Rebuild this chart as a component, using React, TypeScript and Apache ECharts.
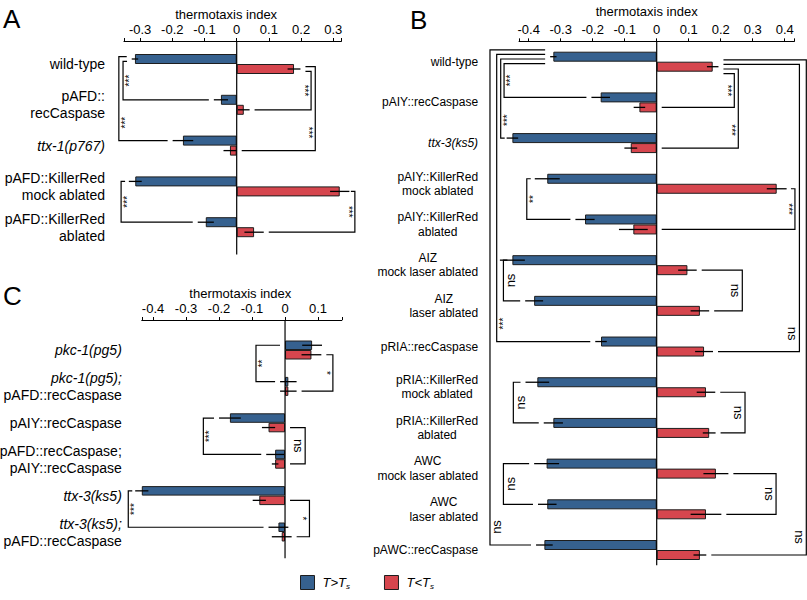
import React, { useEffect, useRef } from 'react';
import * as echarts from 'echarts';

const FONT = "'Liberation Sans', Arial, Helvetica, sans-serif";
const BLUE = '#36618f';
const RED = '#d6464e';
const EDGE = '#1e1e1e';

const AXIS_TITLE = 'thermotaxis index';
const SERIES_HOT = 'T>Ts';
const SERIES_COLD = 'T<Ts';

// ---------- Panel A ----------
const catsA = ['wild-type', 'pAFD::\nrecCaspase', 'ttx-1(p767)', 'pAFD::KillerRed\nmock ablated', 'pAFD::KillerRed\nablated'];
const hotA = [-0.316, -0.049, -0.167, -0.315, -0.096];
const hotErrA = [0.01, 0.022, 0.032, 0.02, 0.025];
const coldA = [0.178, 0.022, -0.021, 0.32, 0.054];
const coldErrA = [0.02, 0.018, 0.02, 0.03, 0.03];
const sigA = [
  { side: 'L', from: 0, to: 1, at: -0.353, label: '***' },
  { side: 'L', from: 0, to: 2, at: -0.366, label: '***' },
  { side: 'R', from: 0, to: 1, at: 0.231, label: '***' },
  { side: 'R', from: 0, to: 2, at: 0.244, label: '***' },
  { side: 'L', from: 3, to: 4, at: -0.359, label: '***' },
  { side: 'R', from: 3, to: 4, at: 0.367, label: '***' },
];

// ---------- Panel B ----------
const catsB = [
  'wild-type', 'pAIY::recCaspase', 'ttx-3(ks5)', 'pAIY::KillerRed\nmock ablated', 'pAIY::KillerRed\nablated',
  'AIZ\nmock laser ablated', 'AIZ\nlaser ablated', 'pRIA::recCaspase', 'pRIA::KillerRed\nmock ablated',
  'pRIA::KillerRed\nablated', 'AWC\nmock laser ablated', 'AWC\nlaser ablated', 'pAWC::recCaspase',
];
const hotB = [-0.323, -0.175, -0.451, -0.342, -0.224, -0.451, -0.383, -0.174, -0.373, -0.323, -0.344, -0.342, -0.351];
const hotErrB = [0.01, 0.029, 0.018, 0.039, 0.03, 0.039, 0.028, 0.018, 0.037, 0.03, 0.039, 0.029, 0.026];
const coldB = [0.175, -0.054, -0.081, 0.375, -0.073, 0.096, 0.135, 0.148, 0.154, 0.164, 0.185, 0.154, 0.135];
const coldErrB = [0.018, 0.018, 0.02, 0.031, 0.045, 0.029, 0.029, 0.028, 0.029, 0.02, 0.039, 0.048, 0.02];
const sigB = [
  { side: 'L', from: 0, to: 1, at: -0.477, label: '***' },
  { side: 'L', from: 0, to: 2, at: -0.4875, label: '***' },
  { side: 'L', from: 0, to: 7, at: -0.5, label: '***' },
  { side: 'L', from: 0, to: 12, at: -0.521, label: 'ns' },
  { side: 'L', from: 3, to: 4, at: -0.406, label: '**' },
  { side: 'L', from: 5, to: 6, at: -0.479, label: 'ns' },
  { side: 'L', from: 8, to: 9, at: -0.448, label: 'ns' },
  { side: 'L', from: 10, to: 11, at: -0.479, label: 'ns' },
  { side: 'R', from: 0, to: 1, at: 0.2425, label: '***' },
  { side: 'R', from: 0, to: 2, at: 0.255, label: '***' },
  { side: 'R', from: 0, to: 7, at: 0.446, label: 'ns' },
  { side: 'R', from: 0, to: 12, at: 0.4675, label: 'ns' },
  { side: 'R', from: 3, to: 4, at: 0.432, label: '***' },
  { side: 'R', from: 5, to: 6, at: 0.2675, label: 'ns' },
  { side: 'R', from: 8, to: 9, at: 0.276, label: 'ns' },
  { side: 'R', from: 10, to: 11, at: 0.373, label: 'ns' },
];

// ---------- Panel C ----------
const catsC = ['pkc-1(pg5)', 'pkc-1(pg5);\npAFD::recCaspase', 'pAIY::recCaspase', 'pAFD::recCaspase;\npAIY::recCaspase', 'ttx-3(ks5)', 'ttx-3(ks5);\npAFD::recCaspase'];
const hotC = [0.082, 0.01, -0.167, -0.03, -0.434, -0.02];
const hotErrC = [0.03, 0.025, 0.033, 0.027, 0.02, 0.03];
const coldC = [0.08, 0.01, -0.05, -0.03, -0.078, -0.01];
const coldErrC = [0.03, 0.025, 0.02, 0.01, 0.02, 0.03];
const sigC = [
  { side: 'L', from: 0, to: 1, at: -0.088, label: '**' },
  { side: 'R', from: 0, to: 1, at: 0.145, label: '*' },
  { side: 'L', from: 2, to: 3, at: -0.2475, label: '***' },
  { side: 'R', from: 2, to: 3, at: 0.061, label: 'ns' },
  { side: 'L', from: 4, to: 5, at: -0.475, label: '***' },
  { side: 'R', from: 4, to: 5, at: 0.074, label: '*' },
];

// ---------- layout (kept apart from data) ----------
const panels = [
  {
    key: 'A', cats: catsA, hot: hotA, hotErr: hotErrA, cold: coldA, coldErr: coldErrA, sig: sigA,
    grid: { left: 124, top: 43.6, width: 217.35, height: 204 }, min: -0.35, max: 0.325, axisOffset: 2.6, zeroExt: 7,
    labelSize: 14, lineHeight: 17, lineAlign: 'right', labelMargin: 19, barW: 10, nameGap: 20, namePad: [0, 13, 0, 0],
  },
  {
    key: 'B', cats: catsB, hot: hotB, hotErr: hotErrB, cold: coldB, coldErr: coldErrB, sig: sigB,
    grid: { left: 519.1, top: 41.35, width: 275.2, height: 529 }, min: -0.43, max: 0.43, axisOffset: 0, zeroExt: -5,
    labelSize: 12, lineHeight: 14.5, lineAlign: 'center', labelMargin: 41, barW: 10, nameGap: 20, namePad: [0, 20, 0, 0],
  },
  {
    key: 'C', cats: catsC, hot: hotC, hotErr: hotErrC, cold: coldC, coldErr: coldErrC, sig: sigC,
    grid: { left: 141.8, top: 331.8, width: 200, height: 218.4 }, min: -0.434, max: 0.172, axisOffset: 11.8, zeroExt: 8,
    labelSize: 14, lineHeight: 17, lineAlign: 'right', labelMargin: 20, barW: 9.5, nameGap: 20, namePad: [0, 3, 0, 0],
  },
];

const labelFormatter = (v: string) =>
  v.split('\n').map((line) => (/^(ttx|pkc)-/.test(line) ? `{it|${line}}` : `{n|${line}}`)).join('\n');

function staggerFor(sig: any[]) {
  const res: number[] = sig.map(() => 0);
  const groups: Record<string, number[]> = {};
  sig.forEach((b, i) => {
    const k = `${b.side}-${b.from}`;
    (groups[k] = groups[k] || []).push(i);
  });
  Object.values(groups).forEach((idxs) => {
    const sorted = idxs.slice().sort((a, b) => (sig[a].side === 'L' ? sig[a].at - sig[b].at : sig[b].at - sig[a].at));
    const n = sorted.length;
    sorted.forEach((idx, k) => { res[idx] = (k - (n - 1) / 2) * 4.6; });
  });
  return res;
}

function buildOption() {
  const grid: any[] = [];
  const xAxis: any[] = [];
  const yAxis: any[] = [];
  const series: any[] = [];

  panels.forEach((p, i) => {
    grid.push({ ...p.grid, containLabel: false, outerBoundsMode: 'none' });
    xAxis.push({
      type: 'value', gridIndex: i, position: 'top', min: p.min, max: p.max, offset: p.axisOffset,
      splitNumber: 8, minInterval: 0.1, maxInterval: 0.1,
      name: AXIS_TITLE, nameLocation: 'middle', nameGap: p.nameGap,
      nameTextStyle: { fontSize: 13, fontFamily: FONT, color: '#000', padding: p.namePad },
      axisLine: { show: true, onZero: false, lineStyle: { color: '#000', width: 1.2 } },
      axisTick: { show: true, inside: false, length: 3, lineStyle: { color: '#000', width: 1 } },
      axisLabel: {
        fontSize: 13, fontFamily: FONT, color: '#000', margin: 5,
        formatter: (v: number) => (Math.abs(v * 10 - Math.round(v * 10)) < 1e-6 ? String(Math.round(v * 10) / 10) : ''),
      },
      splitLine: { show: false },
    });
    const richBase = { fontSize: p.labelSize, fontFamily: FONT, color: '#000', lineHeight: p.lineHeight, align: p.lineAlign };
    yAxis.push({
      type: 'category', gridIndex: i, inverse: true, data: p.cats,
      axisLine: { show: false }, axisTick: { show: false }, splitLine: { show: false },
      axisLabel: {
        interval: 0, margin: p.labelMargin, fontSize: p.labelSize, fontFamily: FONT, color: '#000', lineHeight: p.lineHeight,
        formatter: labelFormatter,
        rich: { n: { ...richBase }, it: { ...richBase, fontStyle: 'italic' } },
      },
    });

    series.push({
      type: 'bar', name: SERIES_HOT, xAxisIndex: i, yAxisIndex: i, data: p.hot, barWidth: p.barW, barGap: '0%',
      clip: false, silent: true, itemStyle: { color: BLUE, borderColor: EDGE, borderWidth: 1 }, z: 2,
    });
    series.push({
      type: 'bar', name: SERIES_COLD, xAxisIndex: i, yAxisIndex: i, data: p.cold, barWidth: p.barW, barGap: '0%',
      clip: false, silent: true, itemStyle: { color: RED, borderColor: EDGE, borderWidth: 1 }, z: 2,
    });

    // zero line
    series.push({
      type: 'custom', name: 'zero' + p.key, xAxisIndex: i, yAxisIndex: i, clip: false, silent: true, z: 4,
      data: [[0, 0]], encode: { x: 0, y: 1 },
      renderItem: (params: any, api: any) => {
        const cs = params.coordSys;
        const x = api.coord([0, 0])[0];
        return {
          type: 'line',
          shape: { x1: x, y1: cs.y - p.axisOffset, x2: x, y2: cs.y + cs.height + p.zeroExt },
          style: { stroke: '#000', lineWidth: 1.2 },
        };
      },
    });

    // error bars
    const errData = [
      ...p.hot.map((v, j) => [v, j, p.hotErr[j], 0]),
      ...p.cold.map((v, j) => [v, j, p.coldErr[j], 1]),
    ];
    series.push({
      type: 'custom', name: 'err' + p.key, xAxisIndex: i, yAxisIndex: i, clip: false, silent: true, z: 5,
      data: errData, encode: { x: 0, y: 1 },
      renderItem: (params: any, api: any) => {
        const v = api.value(0), c = api.value(1), e = api.value(2), s = api.value(3);
        const a = api.coord([v - e, c]);
        const b = api.coord([v + e, c]);
        const dy = (s === 0 ? -1 : 1) * p.barW / 2;
        return {
          type: 'line',
          shape: { x1: a[0], y1: a[1] + dy, x2: b[0], y2: b[1] + dy },
          style: { stroke: '#000', lineWidth: 1.3 },
        };
      },
    });

    // significance brackets
    const stagger = staggerFor(p.sig);
    series.push({
      type: 'custom', name: 'sig' + p.key, xAxisIndex: i, yAxisIndex: i, clip: false, silent: true, z: 6,
      data: p.sig.map((b) => [b.at, b.from]), encode: { x: 0, y: 1 },
      renderItem: (params: any, api: any) => {
        const b = p.sig[params.dataIndex];
        const left = b.side === 'L';
        const vals = left ? p.hot : p.cold;
        const errs = left ? p.hotErr : p.coldErr;
        const off = (left ? -1 : 1) * p.barW / 2;
        const bx = api.coord([b.at, b.from])[0];
        const yTop = api.coord([0, b.from])[1] + off + stagger[params.dataIndex];
        const yBot = api.coord([0, b.to])[1] + off;
        const GAP = 5;
        const armEnd = (row: number) => {
          if (left) {
            const ext = Math.min(vals[row] - errs[row], 0);
            return Math.max(api.coord([ext, row])[0] - GAP, bx + 4);
          }
          const ext = Math.max(vals[row] + errs[row], 0);
          return Math.min(api.coord([ext, row])[0] + GAP, bx - 4);
        };
        const isNs = b.label === 'ns';
        const toff = isNs ? 7 : 6.5;
        const tx = bx + (left ? toff : -toff);
        const ty = b.to - b.from === 1 ? (yTop + yBot) / 2 : yBot - 18;
        return {
          type: 'group',
          children: [
            {
              type: 'polyline',
              shape: { points: [[armEnd(b.from), yTop], [bx, yTop], [bx, yBot], [armEnd(b.to), yBot]] },
              style: { stroke: '#000', lineWidth: 1.2, fill: 'none' },
            },
            {
              type: 'text', x: tx, y: ty, rotation: left ? Math.PI / 2 : -Math.PI / 2,
              style: {
                text: b.label, fontSize: isNs ? 13 : 10, fontFamily: FONT, fill: '#000',
                align: 'center', verticalAlign: 'middle',
              },
            },
          ],
        };
      },
    });
  });

  const legendRich = {
    t: { fontSize: 13, fontFamily: FONT, fontStyle: 'italic', color: '#000', lineHeight: 16, padding: [0, 0, 0, 3] },
    s: { fontSize: 8, fontFamily: FONT, fontStyle: 'italic', color: '#000', lineHeight: 8, verticalAlign: 'bottom' },
  };

  return {
    animation: false,
    backgroundColor: '#fff',
    grid, xAxis, yAxis, series,
    legend: {
      left: 300, top: 575, padding: 0, itemWidth: 14, itemHeight: 14, itemGap: 34, icon: 'rect',
      data: [SERIES_HOT, SERIES_COLD],
      selectedMode: false,
      itemStyle: { borderColor: EDGE, borderWidth: 1 },
      formatter: (name: string) => (name === SERIES_HOT ? '{t|T>T}{s|s}' : '{t|T<T}{s|s}'),
      textStyle: { rich: legendRich },
    },
    graphic: [
      { type: 'text', left: 3, top: 6, style: { text: 'A', fontSize: 26, fontFamily: FONT, fill: '#000' } },
      { type: 'text', left: 410, top: 7, style: { text: 'B', fontSize: 26, fontFamily: FONT, fill: '#000' } },
      { type: 'text', left: 3, top: 283, style: { text: 'C', fontSize: 26, fontFamily: FONT, fill: '#000' } },
    ],
  };
}

export default function App() {
  const ref = useRef<HTMLDivElement>(null);
  useEffect(() => {
    document.body.style.margin = '0';
    if (!ref.current) return;
    const chart = echarts.init(ref.current, null, { renderer: 'svg' });
    chart.setOption(buildOption() as any);
    return () => chart.dispose();
  }, []);
  return <div ref={ref} style={{ position: 'fixed', left: 0, top: 0, width: 807, height: 600, background: '#fff' }} />;
}
